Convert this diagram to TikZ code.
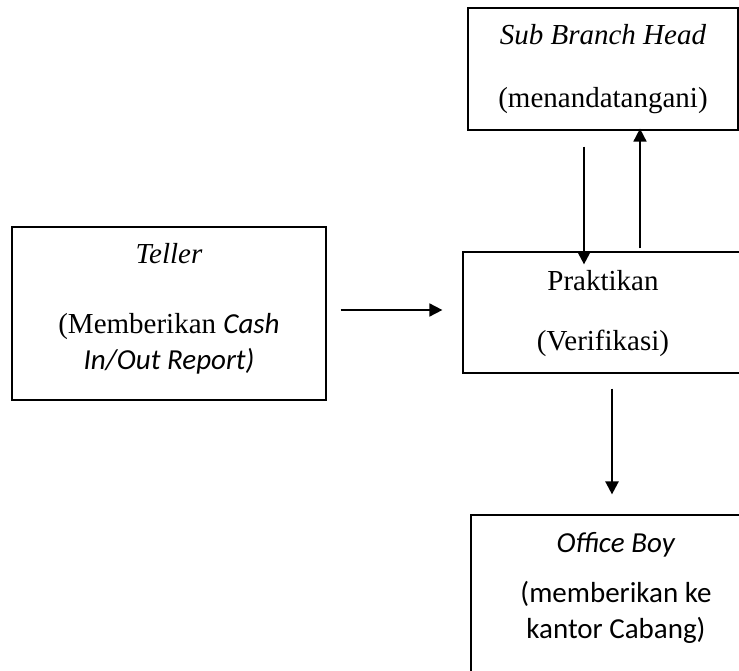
\documentclass[tikz,border=0pt]{standalone}
\usepackage{fontspec}
\setmainfont{Liberation Serif}
\newfontfamily\calibri{Carlito}
\usetikzlibrary{arrows.meta,positioning,calc}

\begin{document}
\begin{tikzpicture}[x=1pt, y=-1pt, >={Triangle[length=13pt,width=13pt]}]
    \tikzstyle{box}=[rectangle,draw,line width=1.2pt,inner sep=0pt]
    \tikzstyle{txt}=[align=center,inner sep=0pt,font=\fontsize{29}{36}\selectfont]
    \tikzstyle{flow}=[->,line width=2.4pt]
    \tikzstyle{thinflow}=[->,line width=1.7pt]
    \useasboundingbox (0,0) rectangle (739,671);

    \node[box, minimum width=270pt, minimum height=122pt] (sbh) at (603,69) {};
    \node[box, minimum width=314pt, minimum height=173pt] (teller) at (169,313.5) {};
    \node[box, minimum width=280pt, minimum height=121pt] (prak) at (603,312.5) {};
    \node[box, minimum width=290pt, minimum height=170pt] (ob) at (616,600) {};

    \node[txt, below=17pt of sbh.north] (sbhtext) {\textit{Sub Branch Head}\\[27pt](menandatangani)};
    \node[txt, below=17pt of teller.north] (tellertext) {\textit{Teller}\\[34pt](Memberikan {\calibri\itshape Cash}\\{\calibri\itshape In/Out Report)}};
    \node[txt, below=19pt of prak.north] (praktext) {Praktikan\\[24pt](Verifikasi)};
    \node[txt, below=18pt of ob.north, font=\fontsize{29}{36}\calibri] (obtext) {\textit{Office Boy}\\[14pt](memberikan ke\\ kantor Cabang)};

    \draw[thinflow] ($(teller.east)+(14,-3.5)$) -- ($(prak.west)+(-20,-2.5)$);
    \draw[flow] ($(sbh.south)+(-19,16)$) -- ($(prak.north)+(-19,13)$);
    \draw[thinflow] ($(prak.north)+(37,-3)$) -- ($(sbh.south)+(37,-2)$);
    \draw[flow] ($(prak.south)+(9,15)$) -- ($(ob.north)+(-4,-20)$);
\end{tikzpicture}
\end{document}
